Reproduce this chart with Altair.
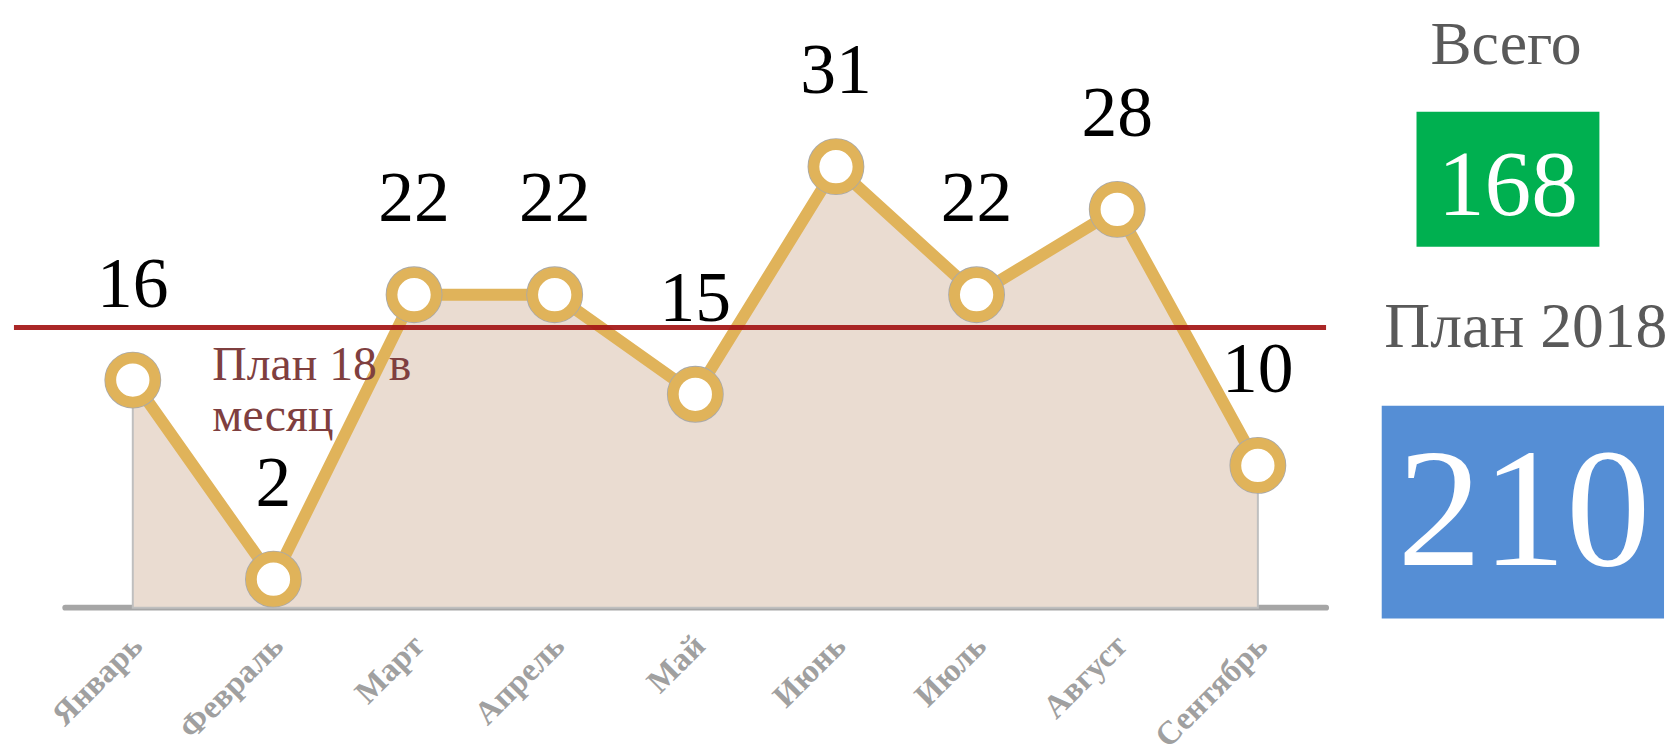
import altair as alt
import pandas as pd

# ---- data ----
months = ["Январь", "Февраль", "Март", "Апрель", "Май", "Июнь", "Июль", "Август", "Сентябрь"]
values = [16, 2, 22, 22, 15, 31, 22, 28, 10]
plan_line_level = 19.7          # where the red plan line sits on the value scale
plan_line_text = ["План 18 в", "месяц"]
total_title = "Всего"
plan_title = "План 2018"
plan_total = 210

total = sum(values)  # 168

df = pd.DataFrame({"idx": list(range(len(months))), "month": months, "value": values})
plan_df = pd.DataFrame({"level": [plan_line_level], "x": [0]})
axis_df = pd.DataFrame({"x0": [-0.48], "x1": [8.485], "y": [0]})

FONT = "Liberation Serif"
GOLD = "#E0B35A"

W, H = 1320, 601
xs = alt.Scale(domain=[-0.845, 8.485], nice=False, zero=False)
ys = alt.Scale(domain=[0, 42], nice=False, zero=True)

label_expr = "[" + ",".join(f"'{m}'" for m in months) + "][datum.value]"

x_axis = alt.Axis(
    values=list(range(len(months))), labelExpr=label_expr, labelAngle=315,
    labelAlign="right", labelBaseline="middle", labelPadding=33, labelOffset=4,
    labelFont=FONT, labelFontSize=33, labelFontWeight="bold", labelColor="#A0A0A0",
    domain=False, ticks=False, tickSize=0, grid=False, title=None,
    labelOverlap=False, labelFlush=False, labelLimit=400,
)


def xq(field):
    return alt.X(field, type="quantitative", scale=xs, axis=x_axis)


y_enc = alt.Y("value:Q", scale=ys, axis=None)

base = alt.Chart(df)

baseline = alt.Chart(axis_df).mark_rule(color="#A6A6A6", strokeWidth=6, strokeCap="round").encode(
    x=xq("x0"), x2="x1", y=alt.Y("y:Q", scale=ys, axis=None)
)
area = base.mark_area(color="#EADCD1", stroke="#BFBFBF", strokeWidth=2).encode(x=xq("idx"), y=y_enc)
line = base.mark_line(color=GOLD, strokeWidth=12).encode(x=xq("idx"), y=y_enc)
rule = alt.Chart(plan_df).mark_rule(color="#A31515", strokeWidth=5, opacity=0.92).encode(
    y=alt.Y("level:Q", scale=ys, axis=None)
)
ring_outline = base.mark_point(shape="circle", filled=False, size=3100, stroke="#A9A9A9",
                               strokeWidth=1.5, opacity=1).encode(x=xq("idx"), y=y_enc)
markers = base.mark_point(shape="circle", filled=True, size=1980, fill="#FFFFFF", stroke=GOLD,
                          strokeWidth=11, opacity=1).encode(x=xq("idx"), y=y_enc)
labels = base.mark_text(font=FONT, fontSize=72, color="#000000", baseline="alphabetic", dy=-74).encode(
    x=xq("idx"), y=y_enc, text="value:Q"
)
plan_text = alt.Chart(plan_df).mark_text(
    font=FONT, fontSize=48, color="#7F3F3F", align="left", baseline="alphabetic",
    dx=80, dy=53, lineHeight=51
).encode(
    x=xq("x"), y=alt.Y("level:Q", scale=ys, axis=None),
    text=alt.value(plan_line_text)
)

left = alt.layer(baseline, area, line, rule, ring_outline, markers, labels, plan_text).properties(
    width=W, height=H
)

# ---- right-hand summary panel ----
PW = 337
stat_df = pd.DataFrame({"total": [total], "plan": [plan_total]})
sbase = alt.Chart(stat_df)
green = sbase.mark_rect(color="#00B050").encode(
    x=alt.value(88), x2=alt.value(272), y=alt.value(102), y2=alt.value(238))
blue = sbase.mark_rect(color="#558ED5").encode(
    x=alt.value(53), x2=alt.value(PW), y=alt.value(398), y2=alt.value(612))
t_total_title = sbase.mark_text(font=FONT, fontSize=62, color="#595959", baseline="alphabetic").encode(
    x=alt.value(178), y=alt.value(54), text=alt.value(total_title))
t_total = sbase.mark_text(font=FONT, fontSize=94, color="#FFFFFF", baseline="alphabetic").encode(
    x=alt.value(180), y=alt.value(206), text="total:Q")
t_plan_title = sbase.mark_text(font=FONT, fontSize=64, color="#595959", baseline="alphabetic").encode(
    x=alt.value(198), y=alt.value(339), text=alt.value(plan_title))
t_plan = sbase.mark_text(font=FONT, fontSize=170, color="#FFFFFF", baseline="alphabetic").encode(
    x=alt.value(196), y=alt.value(558), text="plan:Q")

right = alt.layer(green, blue, t_total_title, t_total, t_plan_title, t_plan).properties(width=PW, height=612)

chart = alt.hconcat(left, right, spacing=0).properties(
    padding={"left": 3, "top": 0, "right": 0, "bottom": 0}
).configure_view(stroke=None).configure_concat(spacing=0)

chart.save("out.html", embed_options={"renderer": "svg", "actions": False})
